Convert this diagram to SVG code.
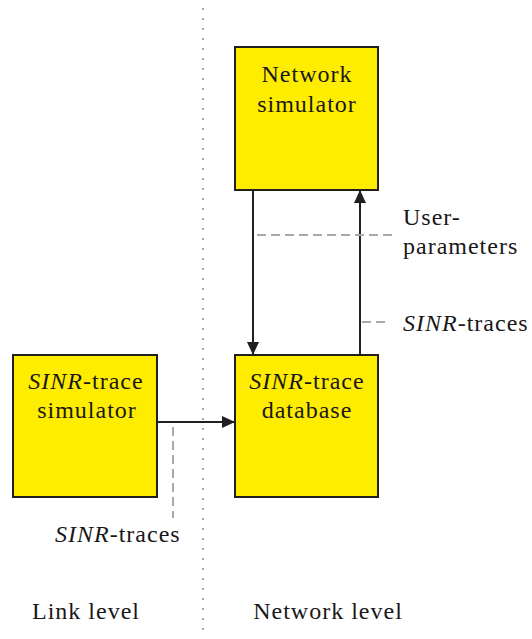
<svg xmlns="http://www.w3.org/2000/svg" width="532" height="639" viewBox="0 0 532 639" font-family="Liberation Serif, serif">
  <style>
    .box { fill: #ffed00; stroke: #231f20; stroke-width: 2; }
    .t { font-size: 24px; fill: #1a1718; letter-spacing: 1px; }
    .m { text-anchor: middle; }
    .arrow { stroke: #231f20; stroke-width: 2; fill: none; }
    .dash { stroke: #a7a9ac; stroke-width: 2; fill: none; stroke-dasharray: 9 5; }
    .dot { stroke: #a7a9ac; stroke-width: 2; fill: none; stroke-dasharray: 2 8; }
  </style>
  <defs>
    <marker id="ah" markerUnits="userSpaceOnUse" markerWidth="14" markerHeight="12" refX="13" refY="6" orient="auto">
      <path d="M0,0 L13,6 L0,12 z" fill="#231f20"/>
    </marker>
  </defs>
  <rect width="532" height="639" fill="#ffffff"/>

  <line class="dot" x1="203" y1="8" x2="203" y2="636"/>

  <g id="network-simulator">
    <rect class="box" x="235" y="47" width="143" height="143"/>
    <text class="t m" x="307" y="82">Network</text>
    <text class="t m" x="307" y="112">simulator</text>
  </g>

  <g id="sinr-trace-database">
    <rect class="box" x="235" y="355" width="143" height="142"/>
    <text class="t m" x="307" y="389"><tspan font-style="italic">SINR</tspan>-trace</text>
    <text class="t m" x="307" y="418">database</text>
  </g>

  <g id="sinr-trace-simulator">
    <rect class="box" x="13" y="355" width="144" height="142"/>
    <text class="t m" x="86" y="389"><tspan font-style="italic">SINR</tspan>-trace</text>
    <text class="t m" x="87" y="418">simulator</text>
  </g>

  <g id="connectors">
    <line class="arrow" x1="253" y1="190" x2="253" y2="355" marker-end="url(#ah)"/>
    <line class="arrow" x1="360" y1="355" x2="360" y2="190" marker-end="url(#ah)"/>
    <line class="arrow" x1="157" y1="422" x2="235" y2="422" marker-end="url(#ah)"/>
    <line class="dash" x1="257" y1="235" x2="393" y2="235"/>
    <line class="dash" x1="362" y1="322" x2="385" y2="322"/>
    <line class="dash" x1="173" y1="427" x2="173" y2="518"/>
  </g>

  <g id="labels">
    <text class="t" x="403" y="225">User-</text>
    <text class="t" x="403" y="254">parameters</text>
    <text class="t" x="403" y="331"><tspan font-style="italic">SINR</tspan>-traces</text>
    <text class="t" x="55" y="542"><tspan font-style="italic">SINR</tspan>-traces</text>
    <text class="t m" x="86" y="619">Link level</text>
    <text class="t m" x="328" y="619">Network level</text>
  </g>
</svg>
